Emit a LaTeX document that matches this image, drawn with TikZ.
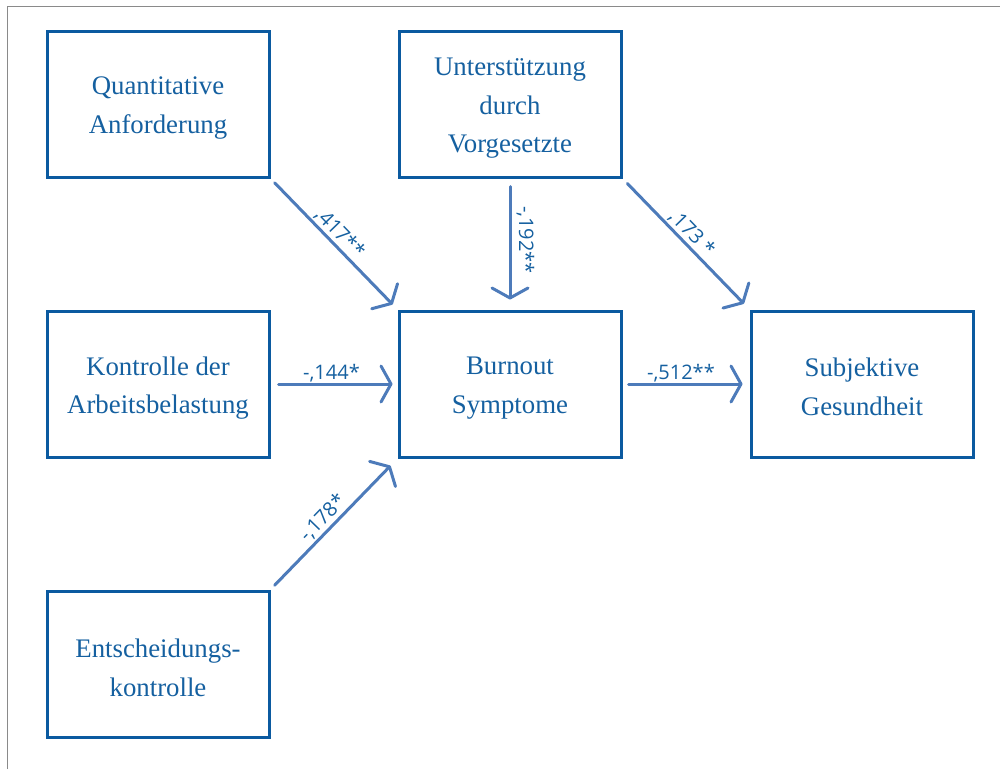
\documentclass[tikz,border=0pt]{standalone}
\usepackage{fontspec}
\setmainfont{Liberation Serif}
\newfontfamily\labelfont{Open Sans}
\usetikzlibrary{arrows.meta}
\definecolor{boxblue}{HTML}{0B5AA0}
\definecolor{txtblue}{HTML}{1560A0}
\definecolor{arrblue}{HTML}{4D7BBA}
\definecolor{framegray}{HTML}{8A8A8A}
\begin{document}
\begin{tikzpicture}[x=1pt,y=-1pt,
  box/.style={draw=boxblue, line width=3pt, minimum width=222pt, minimum height=146pt, inner sep=0pt},
  boxtext/.style={align=center, text=txtblue, font=\fontsize{26.8}{38.5}\selectfont, inner sep=0pt},
  conn/.style={draw=arrblue, line width=3pt, line cap=round,
    -{Straight Barb[length=10pt,width=36pt,round]}},
  lbl/.style={text=txtblue, font=\labelfont\fontsize{20}{22}\selectfont, inner sep=1pt}]
\useasboundingbox (0,0) rectangle (1000,769);
\draw[framegray, line width=1pt] (7,769) -- (7,6) -- (1000,6);

\node[box] (qa) at (158,104) {};
\node[box] (us) at (510,104) {};
\node[box] (ka) at (158,384) {};
\node[box] (bo) at (510,384) {};
\node[box] (su) at (862,384) {};
\node[box] (ek) at (158,664) {};

\node[boxtext] (qat) at ([yshift=-4pt]qa.center) {Quantitative\\Anforderung};
\node[boxtext] (ust) at ([yshift=-4.5pt]us.center) {Unterstützung\\durch\\Vorgesetzte};
\node[boxtext] (kat) at ([yshift=-4pt]ka.center) {Kontrolle der\\Arbeitsbelastung};
\node[boxtext] (bot) at ([yshift=-4pt]bo.center) {Burnout\\Symptome};
\node[boxtext] (sut) at ([yshift=-3pt]su.center) {Subjektive\\Gesundheit};
\node[boxtext] (ekt) at ([yshift=-4pt]ek.center) {Entscheidungs-\\kontrolle};

\draw[conn, shorten <=6pt, shorten >=7pt] (qa.south east) -- node[lbl, sloped, above, inner sep=1.5pt, pos=0.48] {,417**} (bo.north west);
\draw[conn, shorten <=8pt, shorten >=10pt] (us.south) -- node[lbl, sloped, above, inner sep=5pt, pos=0.47] {-,192**} (bo.north);
\draw[conn, shorten <=7pt, shorten >=8pt] (us.south east) -- node[lbl, sloped, above, inner sep=1.5pt, pos=0.48] {,173 *} (su.north west);
\draw[conn, shorten <=8pt, shorten >=5pt] (ka.east) -- node[lbl, above, inner sep=0.5pt, pos=0.48] {-,144*} (bo.west);
\draw[conn, shorten <=6pt, shorten >=7pt] (bo.east) -- node[lbl, above, inner sep=0.5pt, pos=0.46] {-,512**} (su.west);
\draw[conn, shorten <=6pt, shorten >=10pt] (ek.north east) -- node[lbl, sloped, above, inner sep=2pt, pos=0.48] {-,178*} (bo.south west);
\end{tikzpicture}
\end{document}
